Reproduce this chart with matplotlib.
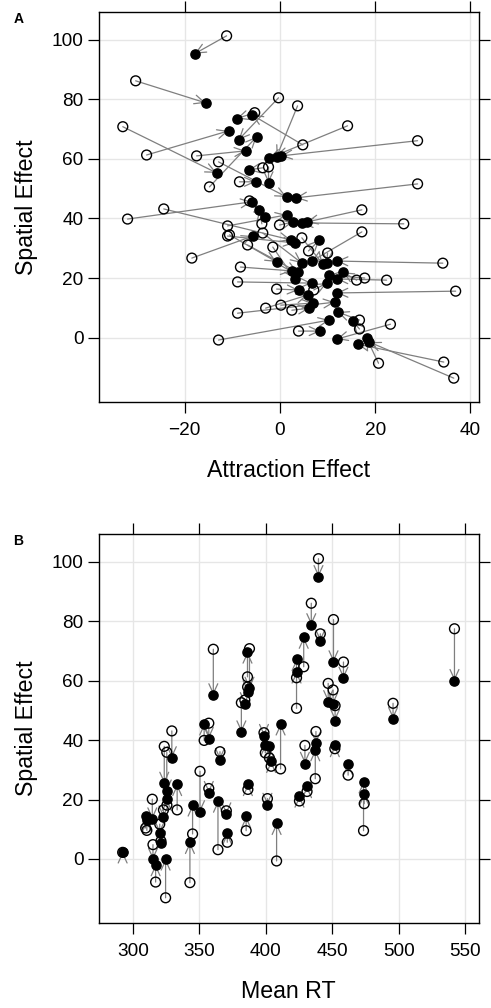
import matplotlib
matplotlib.use("Agg")
import matplotlib.pyplot as plt
from matplotlib.patches import FancyArrowPatch

plt.rcParams["font.family"] = ["Liberation Sans", "DejaVu Sans"]

# Panel A: raw (open) and shrunk (filled) estimates
attr_raw = [-11.2, -30.3, -33.0, -28.0, -17.5, -0.3, -12.9, -14.8, -5.3, 3.7,
            14.2, 28.9, 4.8, 28.9, -32.0, -24.4, -11.0, -11.0, -18.5, -3.6,
            -2.4, -8.5, -6.4, -3.8, -0.1, 17.2, 26.0, -10.6, -3.6, -6.8,
            -1.5, 4.6, 6.0, 10.0, 17.2, -8.3, -8.9, -0.7, -8.9, -3.0,
            0.2, 2.5, 3.9, -12.9, 16.1, 17.8, 22.4, 34.2, 36.9, 7.1,
            16.7, 16.7, 23.2, 20.7, 34.4, 36.5]
spat_raw_a = [101.3, 86.2, 70.8, 61.3, 61.0, 80.5, 59.0, 50.6, 75.5, 77.8,
              71.1, 66.1, 64.7, 51.6, 39.8, 43.2, 37.5, 34.1, 26.7, 57.0,
              57.3, 52.3, 45.9, 38.2, 37.8, 42.9, 38.2, 34.5, 35.1, 31.1,
              30.4, 33.5, 29.1, 28.4, 35.5, 23.7, 18.7, 16.3, 8.2, 9.9,
              10.9, 9.2, 2.2, -0.8, 19.3, 20.0, 19.3, 25.0, 15.6, 16.0,
              5.9, 2.9, 4.5, -8.6, -8.2, -13.6]
attr_est = [-17.9, -15.6, -13.3, -10.8, -7.2, -8.7, 1.4, -4.9, -9.1, -0.7,
            -2.2, 0.2, -5.9, 3.3, -5.9, 2.3, 1.4, 3.1, -5.7, -6.6,
            -2.4, -5.1, -3.2, -4.3, 2.7, 5.6, 4.6, -0.7, 4.6, 3.7,
            3.1, 9.0, 8.3, 9.8, 6.7, 2.5, 6.7, 3.9, 11.5, 5.8,
            6.9, 6.2, 8.5, 10.4, 13.2, 10.4, 11.9, 11.9, 11.9, 9.8,
            12.1, 15.3, 11.9, 18.2, 16.3, 18.8]
spat_est_a = [95.3, 78.8, 55.3, 69.4, 62.7, 66.4, 47.2, 67.4, 73.5, 60.7,
              60.3, 61.0, 74.8, 46.9, 45.6, 32.8, 41.2, 31.8, 34.1, 56.3,
              51.9, 52.3, 40.5, 42.9, 38.8, 38.8, 38.5, 25.4, 25.0, 22.0,
              19.7, 24.7, 32.8, 25.0, 25.7, 22.4, 18.3, 16.0, 11.9, 14.3,
              11.6, 9.9, 2.2, 5.9, 22.0, 21.0, 19.7, 25.7, 15.0, 18.3,
              8.6, 5.5, -0.5, -0.2, -2.2, -1.5]

# Panel B: mean RT against spatial effect
mean_rt = [360.5, 386.2, 387.7, 386.3, 381.6, 384.2, 439.6, 434.2, 450.9, 541.9,
           441.0, 428.5, 423.1, 423.1, 458.4, 446.9, 450.6, 452.1, 495.7, 292.3,
           317.1, 324.6, 315.1, 309.6, 310.5, 314.6, 320.2, 321.1, 323.0, 323.6,
           325.5, 329.3, 333.3, 350.5, 344.9, 342.9, 353.6, 357.1, 365.5, 357.1,
           364.0, 370.3, 371.0, 385.2, 386.5, 399.6, 402.7, 404.0, 398.6, 411.1,
           401.2, 408.1, 437.7, 437.2, 429.4, 451.9, 461.9, 431.0, 425.3, 474.0,
           473.5, 325.6]
spat_raw_b = [70.6, 61.3, 70.8, 57.9, 52.6, 53.5, 101.1, 86.1, 80.6, 77.5,
              75.8, 64.7, 61.0, 50.7, 66.3, 59.1, 56.9, 51.6, 52.4, 2.2,
              -7.8, -13.1, 4.8, 10.4, 9.6, 20.1, 11.7, 6.0, 16.5, 37.9,
              35.9, 43.1, 16.5, 29.5, 8.4, -8.0, 39.9, 45.7, 36.1, 23.7,
              3.1, 16.2, 5.6, 9.5, 23.4, 35.7, 34.0, 31.2, 42.5, 30.3,
              20.3, -0.7, 42.9, 27.0, 38.2, 37.1, 28.2, 22.7, 19.5, 18.6,
              9.5, 18.1]
spat_est_b = [55.2, 69.7, 57.4, 56.2, 42.7, 52.2, 95.0, 78.8, 66.3, 60.0,
              73.3, 74.7, 67.2, 63.0, 60.8, 52.9, 52.1, 46.6, 47.2, 2.4,
              -1.9, 0.0, -0.2, 14.3, 13.0, 13.4, 8.7, 5.5, 14.0, 25.4,
              22.8, 34.0, 25.1, 15.8, 18.2, 5.6, 45.5, 40.5, 33.4, 22.3,
              19.5, 15.1, 8.7, 14.3, 25.1, 38.5, 37.9, 32.9, 41.5, 45.5,
              18.3, 12.0, 39.0, 36.8, 32.1, 38.2, 32.1, 24.4, 21.2, 22.0,
              26.0, 20.1]


def draw_panel(ax, x0, y0, x1, y1, xlim, xticks, xlabel, tag):
    ax.set_xlim(*xlim)
    ax.set_ylim(-21.7, 109.4)
    ax.set_xticks(xticks)
    ax.set_yticks([0, 20, 40, 60, 80, 100])
    ax.grid(True, color="#e6e6e6", lw=1.0)
    ax.set_axisbelow(True)
    for a, b, c, d in zip(x0, y0, x1, y1):
        arr = FancyArrowPatch((a, b), (c, d),
                              arrowstyle="->,head_length=7,head_width=3.2",
                              mutation_scale=1, shrinkA=0, shrinkB=0,
                              color="#7f7f7f", lw=0.9, zorder=2)
        ax.add_patch(arr)
    ax.scatter(x0, y0, s=50, facecolors="none", edgecolors="black",
               linewidths=1.0, zorder=3)
    ax.scatter(x1, y1, s=44, color="black", zorder=4)
    for sp in ax.spines.values():
        sp.set_linewidth(1.0)
    ax.tick_params(direction="out", length=8, width=0.9, top=True, right=True,
                   labeltop=False, labelright=False, labelsize=13.7)
    ax.tick_params(axis="x", pad=6)
    ax.tick_params(axis="y", pad=3)
    ax.set_xlabel(xlabel, fontsize=16.7)
    ax.set_ylabel("Spatial Effect", fontsize=16.7)
    ax.xaxis.set_label_coords(0.5, -0.145)
    ax.yaxis.set_label_coords(-0.16, 0.5)
    ax.text(-0.225, 1.0, tag, transform=ax.transAxes, fontsize=10,
            fontweight="bold", ha="left", va="top")


fig = plt.figure(figsize=(4.91, 10.08), dpi=100)
ax_a = fig.add_axes([0.2016, 0.6009, 0.7730, 0.3875])
ax_b = fig.add_axes([0.2016, 0.0840, 0.7730, 0.3862])

draw_panel(ax_a, attr_raw, spat_raw_a, attr_est, spat_est_a,
           (-38.0, 41.7), [-20, 0, 20, 40], "Attraction Effect", "A")
draw_panel(ax_b, mean_rt, spat_raw_b, mean_rt, spat_est_b,
           (274.5, 560.0), [300, 350, 400, 450, 500, 550], "Mean RT", "B")

fig.savefig("out.png", dpi=100)
